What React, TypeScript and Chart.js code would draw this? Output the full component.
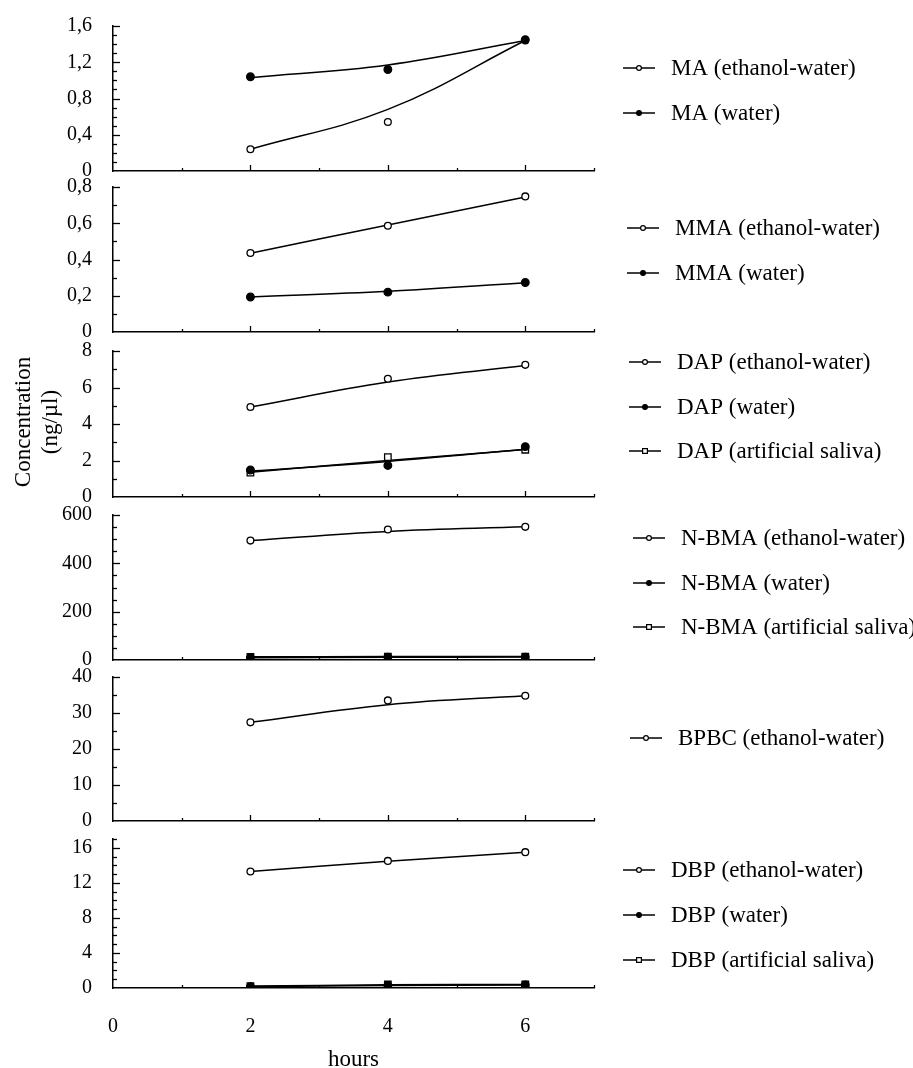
import React, { useEffect, useRef } from 'react';
import { Chart, registerables } from 'chart.js';

Chart.register(...registerables);

// ---------- data ----------
const hours = [2, 4, 6];
const xTickValues = [0, 2, 4, 6];

const maEthanol = [0.24, 0.54, 1.44];
const maEthanolFit = [0.24, 0.68, 1.44];
const maWater = [1.04, 1.12, 1.45];
const maWaterFit = [1.03, 1.17, 1.44];
const maLabels = ['MA (ethanol-water)', 'MA (water)'];

const mmaEthanol = [0.436, 0.586, 0.748];
const mmaEthanolFit = [0.435, 0.59, 0.745];
const mmaWater = [0.193, 0.22, 0.273];
const mmaWaterFit = [0.193, 0.225, 0.272];
const mmaLabels = ['MMA (ethanol-water)', 'MMA (water)'];

const dapEthanol = [4.93, 6.48, 7.24];
const dapEthanolFit = [4.93, 6.3, 7.2];
const dapWater = [1.48, 1.73, 2.76];
const dapWaterFit = [1.42, 1.95, 2.62];
const dapSaliva = [1.34, 2.18, 2.59];
const dapSalivaFit = [1.36, 2.0, 2.6];
const dapLabels = ['DAP (ethanol-water)', 'DAP (water)', 'DAP (artificial saliva)'];

const nbmaEthanol = [494, 540, 551];
const nbmaEthanolFit = [494, 532, 551];
const nbmaWater = [10, 12, 12];
const nbmaWaterFit = [9, 11, 12];
const nbmaSaliva = [13, 14, 14];
const nbmaSalivaFit = [13, 14, 14];
const nbmaLabels = ['N-BMA (ethanol-water)', 'N-BMA (water)', 'N-BMA (artificial saliva)'];

const bpbcEthanol = [27.4, 33.5, 34.8];
const bpbcEthanolFit = [27.4, 32.3, 34.8];
const bpbcLabels = ['BPBC (ethanol-water)'];

const dbpEthanol = [13.3, 14.5, 15.5];
const dbpEthanolFit = [13.3, 14.45, 15.5];
const dbpWater = [0.15, 0.3, 0.35];
const dbpWaterFit = [0.15, 0.28, 0.35];
const dbpSaliva = [0.2, 0.4, 0.4];
const dbpSalivaFit = [0.22, 0.36, 0.4];
const dbpLabels = ['DBP (ethanol-water)', 'DBP (water)', 'DBP (artificial saliva)'];

const yTitleLines = ['Concentration', '(ng/µl)'];
const xTitle = 'hours';

// ---------- layout / style ----------
const SERIF = "'Liberation Serif', 'Times New Roman', serif";
const PAGE_W = 913;
const PAGE_H = 1068;
const AXIS_LEFT = 113;
const AXIS_RIGHT = 594;
const MARGIN = 30;

type Kind = 'open' | 'filled' | 'square';
interface SeriesDef { label: string; values: number[]; fit: number[]; kind: Kind }
interface PanelDef {
  top: number; bottom: number; max: number; major: number; minor: number; decimals: number;
  series: SeriesDef[]; legendX: number; legendY: number[];
}

const kinds: Kind[] = ['open', 'filled', 'square'];
const mk = (labels: string[], vals: number[][], fits: number[][]): SeriesDef[] =>
  labels.map((l, i) => ({ label: l, values: vals[i], fit: fits[i], kind: kinds[i] }));

const panels: PanelDef[] = [
  { top: 23, bottom: 174, max: 1.6, major: 0.4, minor: 0.1, decimals: 1,
    series: mk(maLabels, [maEthanol, maWater], [maEthanolFit, maWaterFit]), legendX: 623, legendY: [68, 113] },
  { top: 184, bottom: 335, max: 0.8, major: 0.2, minor: 0.1, decimals: 1,
    series: mk(mmaLabels, [mmaEthanol, mmaWater], [mmaEthanolFit, mmaWaterFit]), legendX: 627, legendY: [228, 273] },
  { top: 348, bottom: 500, max: 8, major: 2, minor: 1, decimals: 0,
    series: mk(dapLabels, [dapEthanol, dapWater, dapSaliva], [dapEthanolFit, dapWaterFit, dapSalivaFit]), legendX: 629, legendY: [362, 407, 451] },
  { top: 512, bottom: 663, max: 600, major: 200, minor: 50, decimals: 0,
    series: mk(nbmaLabels, [nbmaEthanol, nbmaWater, nbmaSaliva], [nbmaEthanolFit, nbmaWaterFit, nbmaSalivaFit]), legendX: 633, legendY: [538, 583, 627] },
  { top: 674, bottom: 824, max: 40, major: 10, minor: 5, decimals: 0,
    series: mk(bpbcLabels, [bpbcEthanol], [bpbcEthanolFit]), legendX: 630, legendY: [738] },
  { top: 836, bottom: 988, max: 17, major: 4, minor: 1, decimals: 0,
    series: mk(dbpLabels, [dbpEthanol, dbpWater, dbpSaliva], [dbpEthanolFit, dbpWaterFit, dbpSalivaFit]), legendX: 623, legendY: [870, 915, 960] },
];

function drawMarker(ctx: CanvasRenderingContext2D, kind: Kind, x: number, y: number, r: number) {
  ctx.save();
  ctx.lineWidth = 1.2;
  ctx.strokeStyle = '#000';
  ctx.beginPath();
  if (kind === 'square') {
    ctx.rect(x - r, y - r, 2 * r, 2 * r);
    ctx.fillStyle = '#fff';
  } else {
    ctx.arc(x, y, r, 0, Math.PI * 2);
    ctx.fillStyle = kind === 'filled' ? '#000' : '#fff';
  }
  ctx.fill();
  ctx.stroke();
  ctx.restore();
}

function Panel({ cfg, isLast }: { cfg: PanelDef; isLast: boolean }) {
  const ref = useRef<HTMLCanvasElement | null>(null);
  const canvasTop = cfg.top - MARGIN;
  const canvasH = isLast ? PAGE_H - canvasTop : cfg.bottom - canvasTop + MARGIN;
  const xHeight = isLast ? PAGE_H - cfg.bottom : 0;

  useEffect(() => {
    if (!ref.current) return;
    const datasets: any[] = [];
    cfg.series.forEach((s) => {
      datasets.push({
        label: s.label + ' fit',
        data: hours.map((h, i) => ({ x: h, y: s.fit[i] })),
        showLine: true,
        borderColor: '#000',
        borderWidth: 1.5,
        pointRadius: 0,
        tension: 0.4,
        fill: false,
        order: 10,
      });
    });
    cfg.series.forEach((s) => {
      datasets.push({
        label: s.label,
        data: hours.map((h, i) => ({ x: h, y: s.values[i] })),
        showLine: false,
        pointStyle: s.kind === 'square' ? 'rect' : 'circle',
        pointRadius: s.kind === 'square' ? 4.6 : s.kind === 'filled' ? 3.8 : 3.4,
        pointBackgroundColor: s.kind === 'filled' ? '#000' : '#fff',
        pointBorderColor: '#000',
        pointBorderWidth: 1.3,
        order: s.kind === 'filled' ? 0 : 1,
      });
    });

    const decor = {
      id: 'decor',
      afterDraw(chart: any) {
        const ctx = chart.ctx as CanvasRenderingContext2D;
        const xs = chart.scales.x;
        const ys = chart.scales.y;
        const area = chart.chartArea;
        ctx.save();
        ctx.strokeStyle = '#000';
        ctx.lineWidth = 1.3;
        const n = Math.round(cfg.max / cfg.minor);
        for (let k = 1; k <= n; k++) {
          const v = k * cfg.minor;
          const isMajor = Math.abs(v / cfg.major - Math.round(v / cfg.major)) < 1e-6;
          const py = Math.round(ys.getPixelForValue(v)) + 0.5;
          ctx.beginPath();
          ctx.moveTo(area.left, py);
          ctx.lineTo(area.left + (isMajor ? 7 : 4), py);
          ctx.stroke();
        }
        for (let v = 1; v <= 7; v++) {
          const px = Math.round(xs.getPixelForValue(v)) + 0.5;
          const len = v % 2 === 0 ? 6 : 3;
          ctx.beginPath();
          ctx.moveTo(px, area.bottom);
          ctx.lineTo(px, area.bottom - len);
          ctx.stroke();
        }
        cfg.series.forEach((s, i) => {
          const y = cfg.legendY[i] - canvasTop;
          const x1 = cfg.legendX;
          ctx.lineWidth = 1.5;
          ctx.beginPath();
          ctx.moveTo(x1, y);
          ctx.lineTo(x1 + 32, y);
          ctx.stroke();
          drawMarker(ctx, s.kind, x1 + 16, y, 2.4);
          ctx.fillStyle = '#000';
          ctx.font = `23px ${SERIF}`;
          ctx.textBaseline = 'middle';
          ctx.textAlign = 'left';
          ctx.fillText(s.label, x1 + 48, y + 1);
        });
        ctx.restore();
      },
    };

    const yMajors: number[] = [];
    for (let k = 0; k * cfg.major <= cfg.max + 1e-9; k++) yMajors.push(+(k * cfg.major).toFixed(6));

    const chart = new Chart(ref.current, {
      type: 'line',
      data: { datasets },
      options: {
        responsive: false,
        maintainAspectRatio: false,
        animation: false,
        events: [],
        layout: {
          autoPadding: false,
          padding: { left: 0, right: PAGE_W - AXIS_RIGHT, top: MARGIN, bottom: isLast ? 0 : MARGIN },
        },
        plugins: { legend: { display: false }, tooltip: { enabled: false } },
        scales: {
          x: {
            type: 'linear',
            min: 0,
            max: 7,
            grid: { display: false, drawTicks: false },
            border: { display: true, color: '#000', width: 1.5 },
            afterBuildTicks: (s: any) => { s.ticks = xTickValues.map((v) => ({ value: v })); },
            ticks: {
              display: isLast,
              autoSkip: false,
              maxRotation: 0,
              padding: 27,
              color: '#000',
              font: { family: SERIF, size: 20 },
              callback: (v: any) => String(v),
            },
            title: {
              display: isLast,
              text: xTitle,
              color: '#000',
              font: { family: SERIF, size: 23, lineHeight: 1 },
              padding: { top: 0, bottom: -3 },
            },
            afterFit: (s: any) => { s.height = xHeight; },
          },
          y: {
            type: 'linear',
            min: 0,
            max: cfg.max,
            grid: { display: false, drawTicks: false },
            border: { display: true, color: '#000', width: 1.5 },
            afterBuildTicks: (s: any) => { s.ticks = yMajors.map((v) => ({ value: v })); },
            ticks: {
              autoSkip: false,
              padding: 21,
              color: '#000',
              font: { family: SERIF, size: 20 },
              callback: (v: any) => {
                const num = Number(v);
                if (num === 0) return '0';
                return cfg.decimals ? num.toFixed(cfg.decimals).replace('.', ',') : String(Math.round(num));
              },
            },
            afterFit: (s: any) => { s.width = AXIS_LEFT; },
          },
        },
      },
      plugins: [decor],
    } as any);

    // calibrate vertical padding so the plot area sits exactly at [cfg.top, cfg.bottom]
    const wantTop = cfg.top - canvasTop;
    const wantBottom = cfg.bottom - canvasTop;
    const setPad = (pt: number, pb: number) => {
      (chart.options as any).layout.padding = { left: 0, right: PAGE_W - AXIS_RIGHT, top: pt, bottom: pb };
      chart.update();
      return [chart.chartArea.top, chart.chartArea.bottom];
    };
    const p0 = 20, p1 = 40;
    const b0 = isLast ? 0 : 20, b1 = isLast ? 10 : 40;
    const [t0, bb0] = setPad(p0, b0);
    const [t1, bb1] = setPad(p1, b1);
    const st = (t1 - t0) / (p1 - p0) || 1;
    const sb = (bb1 - bb0) / (b1 - b0) || -1;
    const pt = p0 + (wantTop - t0) / st;
    const pb = b0 + (wantBottom - bb0) / sb;
    setPad(pt, pb);

    return () => chart.destroy();
  }, [cfg, isLast]);

  return (
    <canvas
      ref={ref}
      width={PAGE_W}
      height={canvasH}
      style={{ position: 'absolute', left: 0, top: canvasTop, width: PAGE_W, height: canvasH, display: 'block' }}
    />
  );
}

export default function App() {
  return (
    <div style={{ position: 'absolute', left: 0, top: 0, width: PAGE_W, height: PAGE_H, background: '#fff', overflow: 'hidden' }}>
      {panels.map((p, i) => (
        <Panel key={i} cfg={p} isLast={i === panels.length - 1} />
      ))}
      <div
        style={{
          position: 'absolute',
          left: 36 - 100,
          top: 422 - 27,
          width: 200,
          height: 54,
          transform: 'rotate(-90deg)',
          transformOrigin: '50% 50%',
          textAlign: 'center',
          fontFamily: SERIF,
          fontSize: 23,
          lineHeight: '27px',
          color: '#000',
          whiteSpace: 'nowrap',
        }}
      >
        {yTitleLines.map((t, i) => (
          <div key={i}>{t}</div>
        ))}
      </div>
    </div>
  );
}
